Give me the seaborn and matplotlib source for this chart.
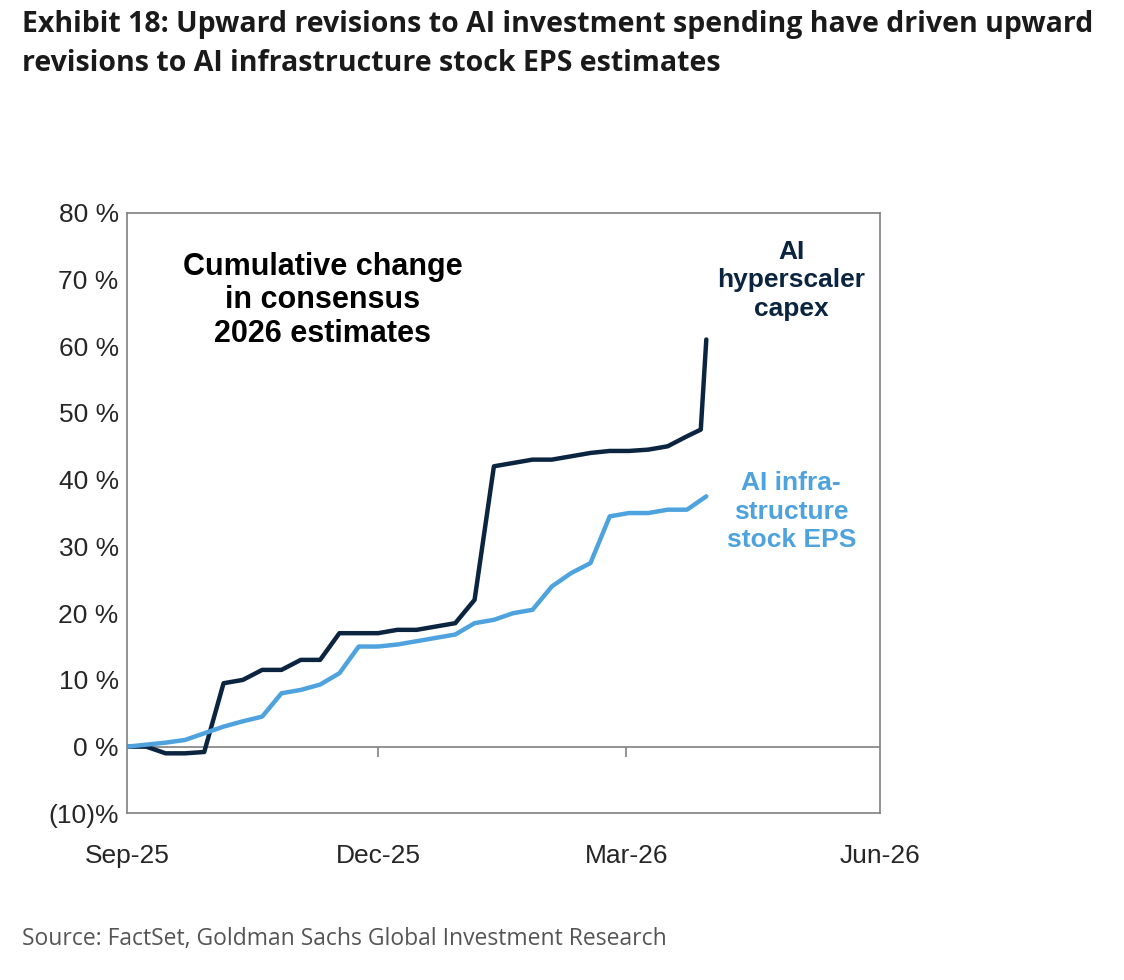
import matplotlib
matplotlib.use("Agg")
import matplotlib.pyplot as plt
import seaborn as sns
import pandas as pd
import numpy as np

sns.set_theme(style="white")
plt.rcParams['font.family'] = ['Liberation Sans', 'DejaVu Sans']

start = pd.Timestamp("2025-09-01")
capex_days = [0, 7, 14, 21, 28, 35, 42, 49, 56, 63, 70, 77, 84, 91, 98, 105, 112, 119, 126,
              133, 140, 147, 154, 161, 168, 175, 182, 189, 196, 203, 208, 210]
capex = [0, 0, -1, -1, -0.8, 9.5, 10, 11.5, 11.5, 13, 13, 17, 17, 17, 17.5, 17.5, 18, 18.5, 22,
         42, 42.5, 43, 43, 43.5, 44, 44.3, 44.3, 44.5, 45, 46.5, 47.5, 61]
eps_days = [0, 7, 14, 21, 28, 35, 42, 49, 56, 63, 70, 77, 84, 91, 98, 105, 112, 119, 126,
            133, 140, 147, 154, 161, 168, 175, 182, 189, 196, 203, 210]
eps = [0, 0.3, 0.6, 1, 2, 3, 3.8, 4.5, 8, 8.5, 9.3, 11, 15, 15, 15.3, 15.8, 16.3, 16.8, 18.5,
       19, 20, 20.5, 24, 26, 27.5, 34.5, 35, 35, 35.5, 35.5, 37.5]
xtick_dates = ["2025-09-01", "2025-12-01", "2026-03-01", "2026-06-01"]
xtick_labels = ["Sep-25", "Dec-25", "Mar-26", "Jun-26"]
yticks = [-10, 0, 10, 20, 30, 40, 50, 60, 70, 80]
ytick_labels = ["(10)%"] + [f"{v} %" for v in yticks[1:]]

df_capex = pd.DataFrame({"date": start + pd.to_timedelta(capex_days, unit="D"), "value": capex})
df_eps = pd.DataFrame({"date": start + pd.to_timedelta(eps_days, unit="D"), "value": eps})

dark = "#0b2541"
light = "#4ea3de"

fig = plt.figure(figsize=(11.24, 9.8), dpi=100)
ax = fig.add_axes([0.113, 0.170, 0.670, 0.613])

sns.lineplot(data=df_capex, x="date", y="value", color=dark, linewidth=3.2, ax=ax)
sns.lineplot(data=df_eps, x="date", y="value", color=light, linewidth=3.2, ax=ax)

xt = pd.to_datetime(xtick_dates)
ax.set_xlim(xt[0], xt[-1])
ax.set_ylim(-10, 80)
ax.axhline(0, color="#808080", lw=1.2, zorder=0)
ax.vlines(xt[1:3], -1.5, 0, color="#808080", lw=1.2)
ax.set_xticks(xt)
ax.set_xticklabels(xtick_labels, fontsize=19)
ax.set_yticks(yticks)
ax.set_yticklabels(ytick_labels, fontsize=19)
ax.tick_params(axis="y", length=0, pad=6)
ax.tick_params(axis="x", length=0, pad=22)
ax.set_xlabel("")
ax.set_ylabel("")
for s in ax.spines.values():
    s.set_color("#808080")
    s.set_linewidth(1.2)

ax.text(0.26, 0.935, "Cumulative change\nin consensus\n2026 estimates", transform=ax.transAxes,
        fontsize=22, fontweight="bold", ha="center", va="top", color="black", linespacing=1.15)
ax.text(0.882, 0.955, "AI\nhyperscaler\ncapex", transform=ax.transAxes, fontsize=19,
        fontweight="bold", ha="center", va="top", color=dark, linespacing=1.25)
ax.text(0.882, 0.57, "AI infra-\nstructure\nstock EPS", transform=ax.transAxes, fontsize=19,
        fontweight="bold", ha="center", va="top", color=light, linespacing=1.25)

fig.text(0.02, 0.99, "Exhibit 18: Upward revisions to AI investment spending have driven upward\n"
         "revisions to AI infrastructure stock EPS estimates", fontsize=20.5, fontweight="bold",
         family=["Open Sans", "DejaVu Sans"], color="#1a1a1a", va="top", linespacing=1.45)
fig.text(0.02, 0.03, "Source: FactSet, Goldman Sachs Global Investment Research", fontsize=16.5,
         family=["Open Sans", "DejaVu Sans"], color="#555555", va="bottom")

fig.savefig("out.png", dpi=100)
